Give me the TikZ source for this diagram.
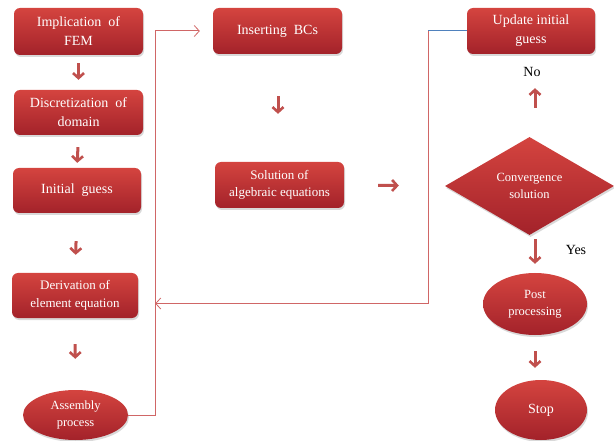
\documentclass[tikz,border=0pt]{standalone}
\usepackage{fontspec}
\setmainfont{Liberation Serif}
\usetikzlibrary{shapes.geometric,shadows,arrows.meta}
\definecolor{accent}{HTML}{C0504D}
\definecolor{boxtop}{HTML}{D4443F}
\definecolor{boxbot}{HTML}{A3222A}
\definecolor{lineRed}{HTML}{D06666}
\definecolor{lineBlue}{HTML}{4F81BD}
\tikzset{
 base/.style={top color=boxtop,bottom color=boxbot,text=white,inner sep=0pt,align=center,
   drop shadow={opacity=0.3,shadow xshift=1pt,shadow yshift=-2pt}},
 box/.style={base,rectangle,rounded corners=6pt,font=\fontsize{14}{19}\selectfont},
 oval/.style={base,ellipse,font=\fontsize{12.5}{17}\selectfont},
 dia/.style={base,diamond,font=\fontsize{12.5}{17}\selectfont},
 flowarrow/.style={draw=accent,line width=3pt,-{Straight Barb[length=5pt,width=11pt,line width=2.6pt]}},
 conn/.style={draw=lineRed,line width=1pt},
 openarrow/.style={-{Straight Barb[length=5pt,width=11pt,line width=0.8pt]}},
 lbl/.style={font=\fontsize{14}{16}\selectfont,text=black}
}
\begin{document}
\begin{tikzpicture}[x=1pt,y=-1pt]
\useasboundingbox (0,0) rectangle (614,441);
% left column
\node[box,minimum width=129pt,minimum height=47pt] (imp) at (78.5,31.5) {Implication\ \ of\\FEM};
\node[box,minimum width=129pt,minimum height=45pt] (disc) at (78.5,112.5) {Discretization\ \ of\\domain};
\node[box,minimum width=128pt,minimum height=45pt] (init) at (77,190.5) {Initial\ \ guess};
\node[box,minimum width=126pt,minimum height=45pt,font=\fontsize{13}{18}\selectfont] (deriv) at (75,295.5) {Derivation of\\element equation};
\node[oval,minimum width=105pt,minimum height=50pt] (asm) at (75.5,415) {Assembly\\process};
% middle column
\node[box,minimum width=129pt,minimum height=46pt] (ins) at (277.5,31) {Inserting\ \ BCs};
\node[box,minimum width=129pt,minimum height=46pt,font=\fontsize{13}{17}\selectfont] (sol) at (279.5,185) {Solution of\\algebraic equations};
% right column
\node[box,minimum width=128pt,minimum height=46pt] (upd) at (531,31) {Update initial\\guess};
\node[dia,minimum width=169pt,minimum height=98pt] (conv) at (529.5,186) {Convergence\\solution};
\node[oval,minimum width=104pt,minimum height=62pt] (post) at (535,304) {Post\\processing};
\node[oval,minimum width=92pt,minimum height=60pt,font=\fontsize{14}{17}\selectfont] (stop) at (541,410) {Stop};
% labels
\node[lbl] (no) at (532,72) {No};
\node[lbl] (yes) at (576,250) {Yes};
% small flow arrows
\draw[flowarrow,shorten <=8pt,shorten >=10pt] (imp.south) -- (disc.north);
\draw[flowarrow,shorten <=12pt,shorten >=5pt] (disc.south) -- (init.north);
\draw[flowarrow,shorten <=28pt,shorten >=18pt] (init.south) -- (deriv.north);
\draw[flowarrow,shorten <=26pt,shorten >=31pt] (deriv.south) -- (asm.north);
\draw[flowarrow,shorten <=42pt,shorten >=48pt] (ins.south -| 278,0) -- (sol.north -| 278,0);
\draw[flowarrow,shorten <=34pt,shorten >=46pt] (sol.east) -- (conv.west);
\draw[flowarrow,shorten <=29pt,shorten >=34pt] (conv.north -| 535,0) -- (upd.south -| 535,0);
\draw[flowarrow,shorten <=4pt,shorten >=9pt] (conv.south -| 535,0) -- (post.north);
\draw[flowarrow,shorten <=16pt,shorten >=12pt] (post.south) -- (stop.north -| 535,0);
% long connectors
\draw[conn,openarrow,shorten >=13pt] (asm.east) -- ++(27,0) |- (ins.west);
\coordinate (bend) at (428,31);
\draw[draw=lineBlue,line width=1pt] (upd.west) -- (bend);
\draw[conn,openarrow,shorten >=17pt] (bend) |- ([yshift=-8pt]deriv.east);
\end{tikzpicture}
\end{document}
